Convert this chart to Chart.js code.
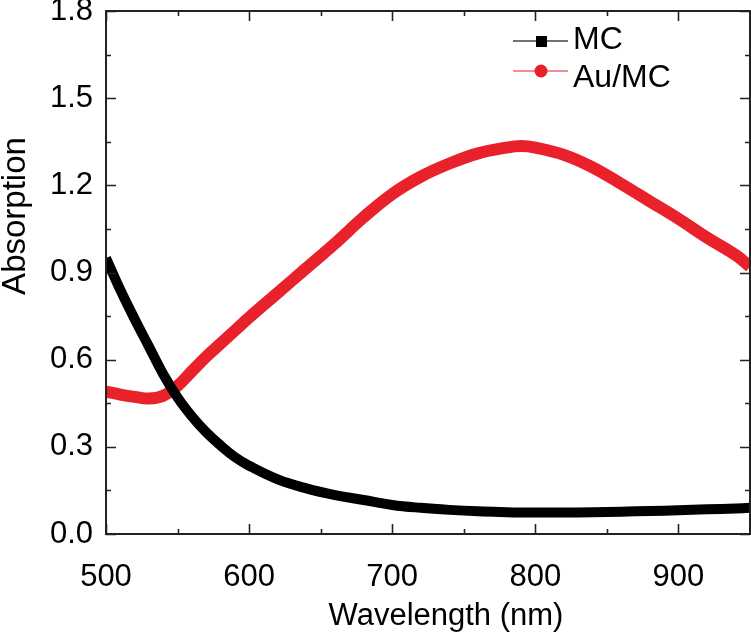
<!DOCTYPE html>
<html>
<head>
<meta charset="utf-8">
<script src="https://cdn.jsdelivr.net/npm/chart.js@4"></script>
<style>
  body { margin: 0; background: #fff; }
</style>
</head>
<body>
<canvas id="chart" width="751" height="639"></canvas>
<script>
// wavelengths (nm)
const wavelength = [500, 510, 520, 530, 540, 550, 560, 570, 580, 590, 600, 620, 640, 660, 680, 700, 720, 740, 760, 780, 790, 800, 820, 840, 860, 880, 900, 920, 940, 950];
const mcValues   = [0.95, 0.84, 0.74, 0.645, 0.55, 0.47, 0.405, 0.35, 0.305, 0.265, 0.235, 0.188, 0.157, 0.134, 0.117, 0.10, 0.09, 0.083, 0.078, 0.075, 0.074, 0.074, 0.074, 0.075, 0.077, 0.079, 0.082, 0.085, 0.088, 0.09];
const auMcValues = [0.49, 0.48, 0.472, 0.466, 0.476, 0.51, 0.56, 0.61, 0.655, 0.70, 0.745, 0.83, 0.915, 1.00, 1.09, 1.17, 1.23, 1.275, 1.31, 1.33, 1.335, 1.33, 1.305, 1.262, 1.205, 1.145, 1.085, 1.02, 0.96, 0.92];

const xTicks = [500, 600, 700, 800, 900];
const xMinor = [550, 650, 750, 850];
const yTicks = [0, 0.3, 0.6, 0.9, 1.2, 1.5, 1.8];
const yMinor = [0.15, 0.45, 0.75, 1.05, 1.35, 1.65];

const FONT = '"Liberation Sans", Arial, Helvetica, sans-serif';
const RED = '#e8212b';

// frame, inward ticks, axis titles and legend
const decor = {
  id: 'decor',
  afterDraw(chart) {
    const { ctx, chartArea: a, scales: { x, y } } = chart;
    ctx.save();
    ctx.strokeStyle = '#222';
    ctx.lineWidth = 2;
    ctx.strokeRect(a.left, a.top, a.right - a.left, a.bottom - a.top);

    ctx.lineWidth = 1.6;
    ctx.beginPath();
    const tx = (vals, len) => vals.forEach(v => {
      const px = Math.round(x.getPixelForValue(v)) + 0.5;
      ctx.moveTo(px, a.bottom); ctx.lineTo(px, a.bottom - len);
      ctx.moveTo(px, a.top); ctx.lineTo(px, a.top + len);
    });
    const ty = (vals, len) => vals.forEach(v => {
      const py = Math.round(y.getPixelForValue(v)) + 0.5;
      ctx.moveTo(a.left, py); ctx.lineTo(a.left + len, py);
      ctx.moveTo(a.right, py); ctx.lineTo(a.right - len, py);
    });
    tx(xTicks, 10); tx(xMinor, 5);
    ty(yTicks, 10); ty(yMinor, 5);
    ctx.stroke();

    // axis titles
    ctx.fillStyle = '#000';
    ctx.font = '31px ' + FONT;
    ctx.textAlign = 'center';
    ctx.textBaseline = 'middle';
    ctx.fillText('Wavelength (nm)', 446, 616);
    ctx.save();
    ctx.translate(16, 216);
    ctx.rotate(-Math.PI / 2);
    ctx.font = '33px ' + FONT;
    ctx.fillText('Absorption', 0, 0);
    ctx.restore();

    // legend
    const lx = 513, rows = [
      { label: 'MC', y: 41, line: '#444', fill: '#000', shape: 'rect', ty: 40 },
      { label: 'Au/MC', y: 71, line: '#f06a6a', fill: RED, shape: 'circle', ty: 78 }
    ];
    rows.forEach(r => {
      ctx.strokeStyle = r.line;
      ctx.lineWidth = 1.5;
      ctx.beginPath();
      ctx.moveTo(lx, r.y); ctx.lineTo(lx + 55, r.y);
      ctx.stroke();
      ctx.fillStyle = r.fill;
      if (r.shape === 'rect') {
        ctx.fillRect(lx + 23, r.y - 5, 11, 11);
      } else {
        ctx.beginPath();
        ctx.arc(lx + 28, r.y, 6.5, 0, Math.PI * 2);
        ctx.fill();
      }
      ctx.fillStyle = '#000';
      ctx.font = '32px ' + FONT;
      ctx.textAlign = 'left';
      ctx.fillText(r.label, lx + 60, r.ty);
    });
    ctx.restore();
  }
};

new Chart(document.getElementById('chart'), {
  type: 'line',
  data: {
    datasets: [
      {
        label: 'MC',
        data: wavelength.map((w, i) => ({ x: w, y: mcValues[i] })),
        borderColor: '#000',
        borderWidth: 10,
        pointRadius: 0,
        tension: 0.4
      },
      {
        label: 'Au/MC',
        data: wavelength.map((w, i) => ({ x: w, y: auMcValues[i] })),
        borderColor: RED,
        borderWidth: 12,
        pointRadius: 0,
        tension: 0.4
      }
    ]
  },
  options: {
    responsive: false,
    animation: false,
    layout: { padding: { top: 11, right: 1, left: 0, bottom: 0 } },
    plugins: { legend: { display: false }, tooltip: { enabled: false } },
    scales: {
      x: {
        type: 'linear',
        min: 500,
        max: 950,
        grid: { display: false, drawTicks: false },
        border: { display: false },
        afterBuildTicks: s => { s.ticks = xTicks.map(v => ({ value: v })); },
        afterFit: s => { s.height = 105; s.paddingLeft = 0; s.paddingRight = 0; },
        ticks: {
          color: '#000',
          padding: 25,
          font: { family: FONT, size: 31 },
          callback: v => String(v)
        }
      },
      y: {
        min: 0,
        max: 1.8,
        grid: { display: false, drawTicks: false },
        border: { display: false },
        afterBuildTicks: s => { s.ticks = yTicks.map(v => ({ value: v })); },
        afterFit: s => { s.width = 106; s.paddingTop = 0; s.paddingBottom = 0; },
        ticks: {
          color: '#000',
          padding: 13,
          font: { family: FONT, size: 31 },
          callback: v => v.toFixed(1)
        }
      }
    }
  },
  plugins: [decor]
});
</script>
</body>
</html>
